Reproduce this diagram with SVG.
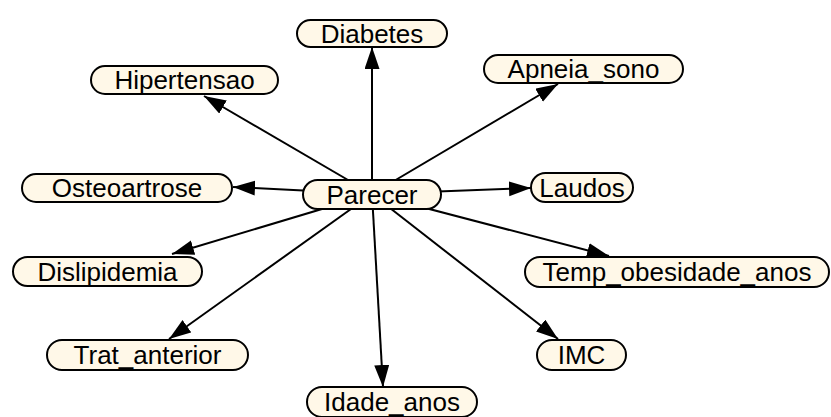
<svg xmlns="http://www.w3.org/2000/svg" width="831" height="417" viewBox="0 0 831 417">
<style>
.n rect{fill:#FFF8E8;stroke:#000;stroke-width:2}
.n text{font-family:"Liberation Sans",Arial,sans-serif;font-size:26px;fill:#000;text-anchor:middle}
.e line{stroke:#000;stroke-width:2;marker-end:url(#ah)}
</style>
<defs>
<marker id="ah" markerUnits="userSpaceOnUse" markerWidth="24" markerHeight="16" refX="22" refY="7.5" orient="auto" viewBox="0 0 24 16"><path d="M0,0 L22,7.5 L0,15 z" fill="#000"/></marker>
</defs>
<rect width="831" height="417" fill="#fff"/>
<g id="edges" class="e">
<line x1="372" y1="194" x2="372" y2="47"/>
<line x1="372" y1="194" x2="204" y2="96"/>
<line x1="372" y1="194" x2="558" y2="84"/>
<line x1="372" y1="194" x2="233" y2="187"/>
<line x1="372" y1="194" x2="531" y2="188"/>
<line x1="372" y1="194" x2="172" y2="254"/>
<line x1="372" y1="194" x2="609" y2="256"/>
<line x1="372" y1="194" x2="169" y2="339"/>
<line x1="372" y1="194" x2="558" y2="339"/>
<line x1="372" y1="194" x2="383" y2="387"/>
</g>
<g id="Diabetes" class="n"><rect x="297" y="20" width="150" height="27" rx="13.5"/><text x="372" y="43">Diabetes</text></g>
<g id="Hipertensao" class="n"><rect x="91" y="66" width="187" height="28" rx="14"/><text x="184.5" y="89">Hipertensao</text></g>
<g id="Apneia_sono" class="n"><rect x="484" y="55" width="199" height="28" rx="14"/><text x="583.5" y="78">Apneia_sono</text></g>
<g id="Osteoartrose" class="n"><rect x="22" y="174" width="210" height="28" rx="14"/><text x="127" y="197">Osteoartrose</text></g>
<g id="Parecer" class="n"><rect x="303" y="180" width="138" height="29" rx="14.5"/><text x="372" y="204">Parecer</text></g>
<g id="Laudos" class="n"><rect x="531" y="173" width="102" height="29" rx="14.5"/><text x="582" y="197">Laudos</text></g>
<g id="Dislipidemia" class="n"><rect x="13" y="257" width="189" height="29" rx="14.5"/><text x="107.5" y="281">Dislipidemia</text></g>
<g id="Temp_obesidade_anos" class="n"><rect x="525" y="257" width="304" height="30" rx="15"/><text x="677" y="281">Temp_obesidade_anos</text></g>
<g id="Trat_anterior" class="n"><rect x="47" y="340" width="201" height="30" rx="15"/><text x="147.5" y="364">Trat_anterior</text></g>
<g id="IMC" class="n"><rect x="537" y="340" width="89" height="30" rx="15"/><text x="581.5" y="364">IMC</text></g>
<g id="Idade_anos" class="n"><rect x="307" y="387" width="170" height="30" rx="15"/><text x="392" y="411">Idade_anos</text></g>
</svg>
